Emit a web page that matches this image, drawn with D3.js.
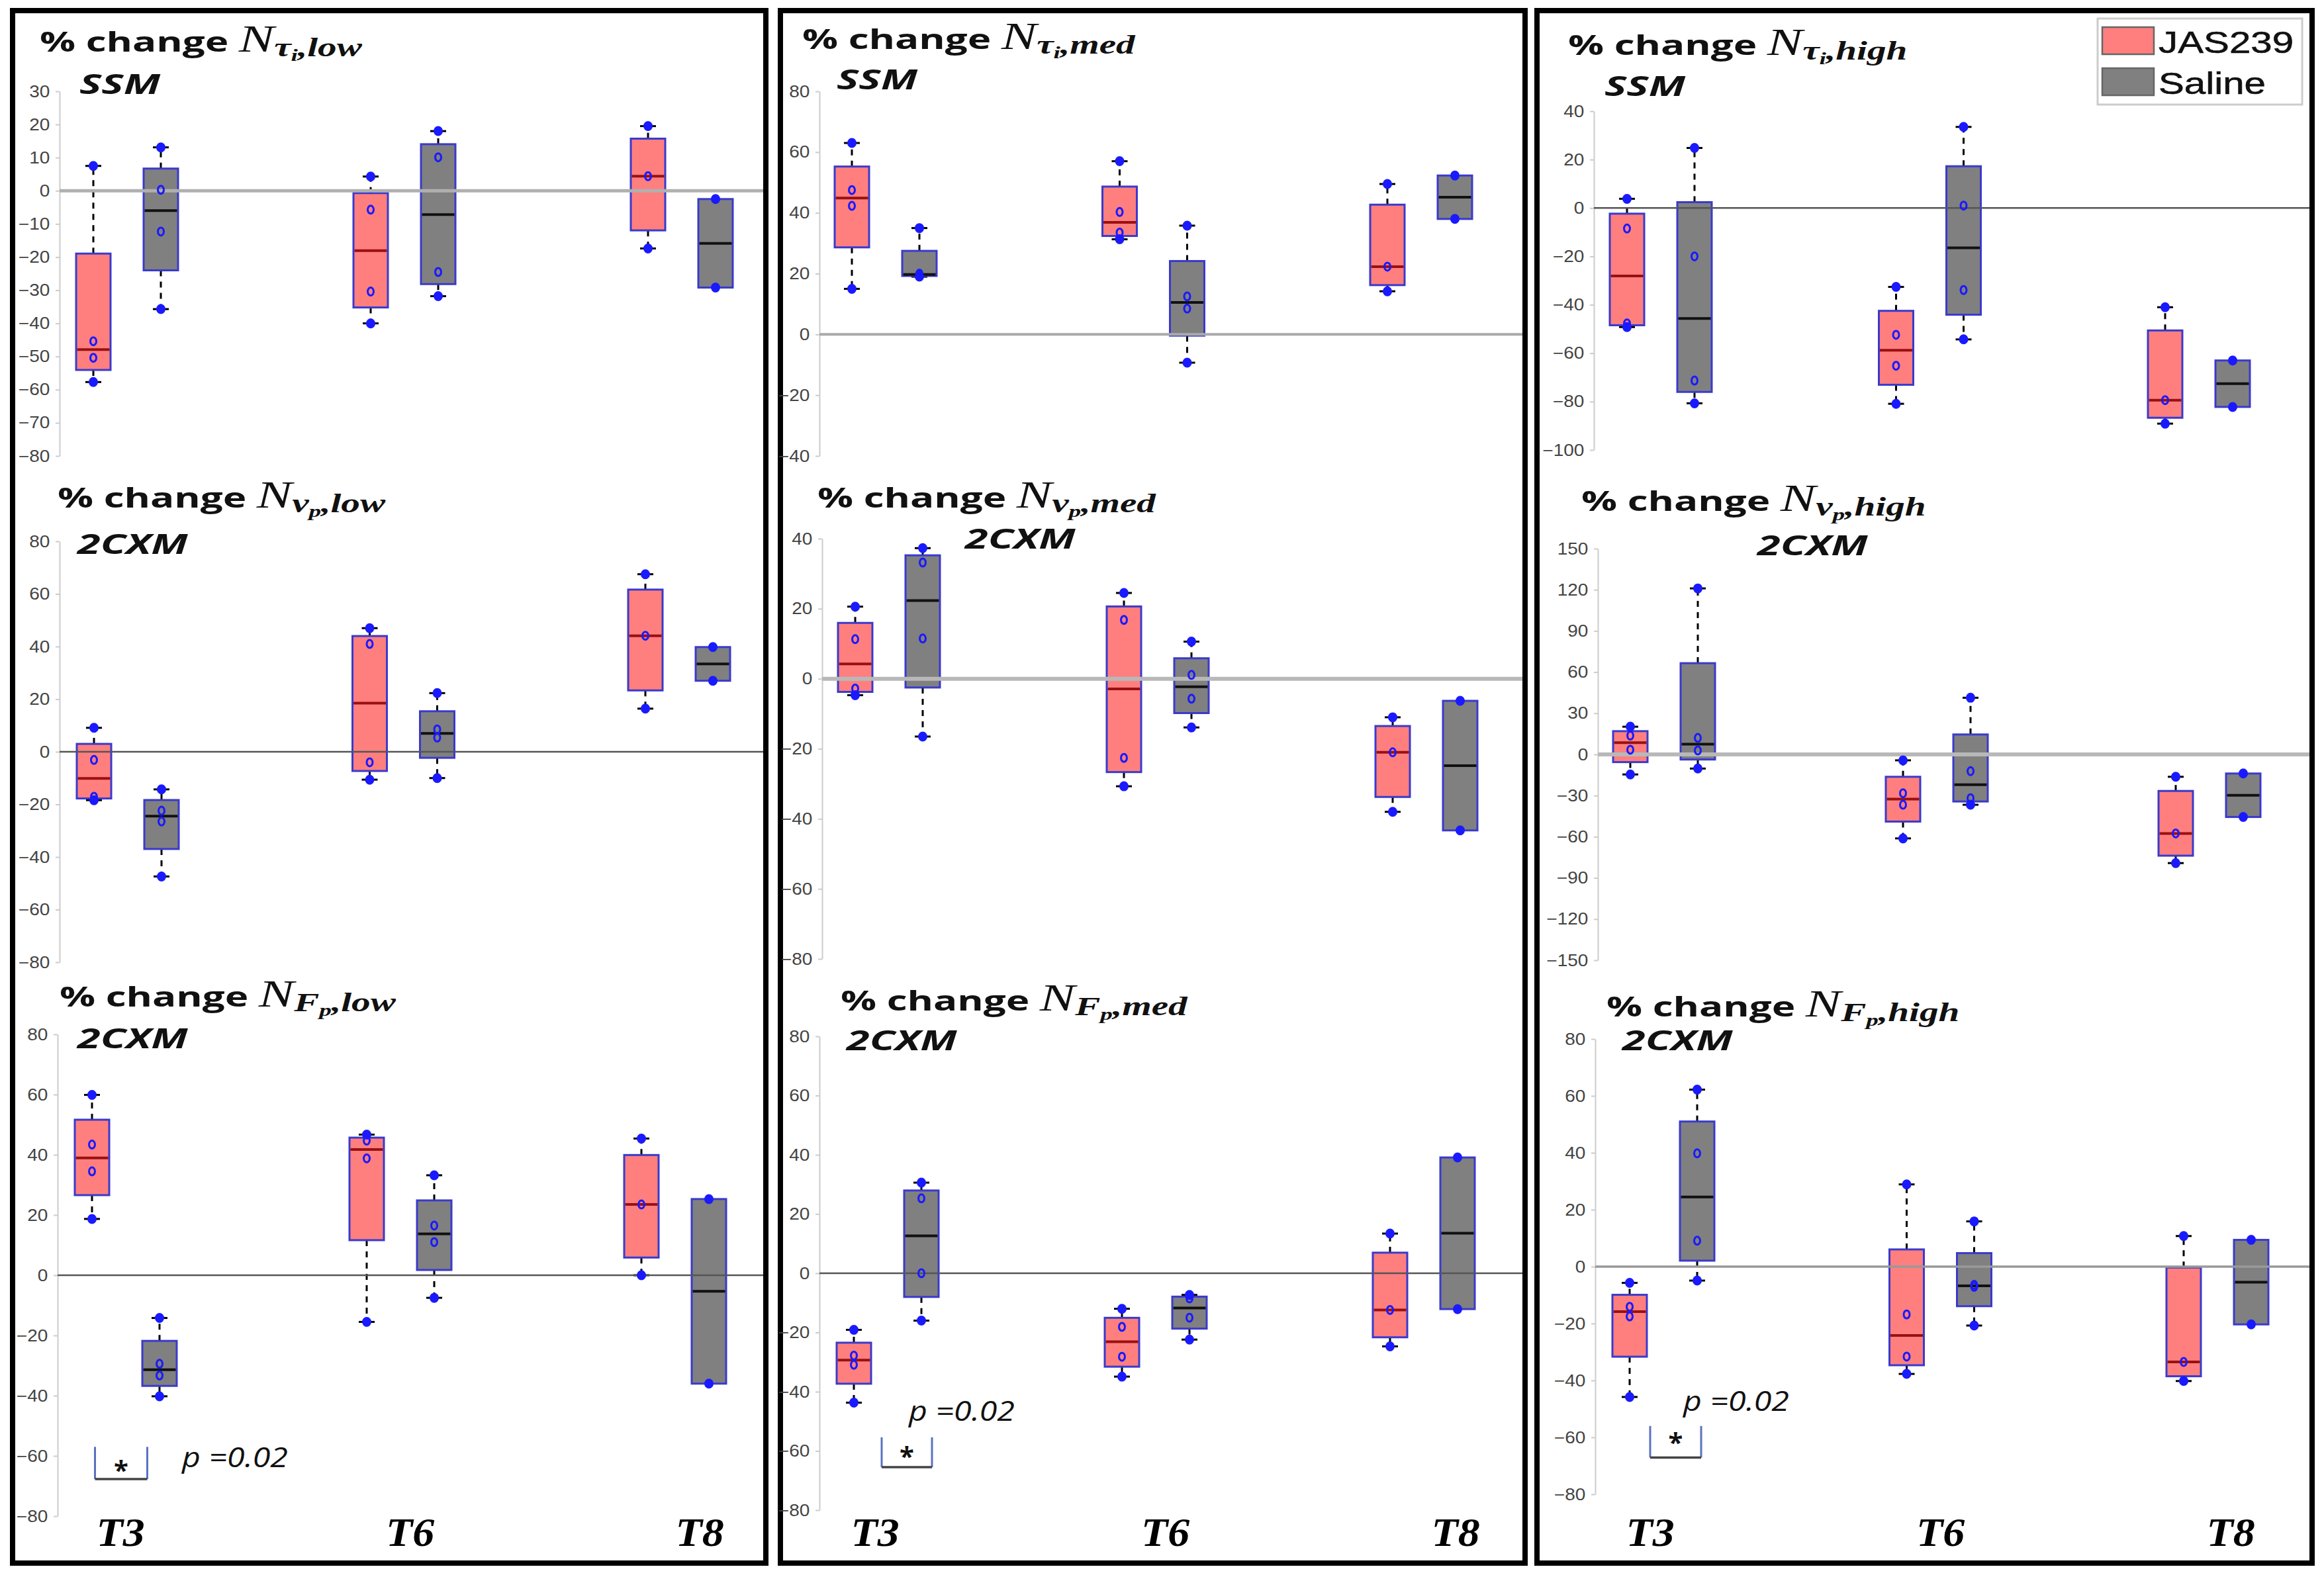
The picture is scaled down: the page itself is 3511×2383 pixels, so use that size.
<!DOCTYPE html>
<html>
<head>
<meta charset="utf-8">
<script src="https://cdn.jsdelivr.net/npm/d3@7"></script>
<style>
  body { margin: 0; background: #fff; }
</style>
</head>
<body>
<div class="chart"></div>
<script>
var svgWidth = 3511;
var svgHeight = 2383;

var times = ["T3", "T6", "T8"];
var groups = ["JAS239", "Saline"];

// raw % change values per animal, [T3, T6, T8]
var tauLowJAS = [[7.5, -45.4, -50.4, -57.7], [4.3, -5.7, -30.4, -40], [19.5, 4.4, -17.4]];
var tauLowSal = [[13.1, 0.3, -12.3, -35.7], [18, 10.1, -24.5, -31.8], [-2.5, -29.2]];
var tauMedJAS = [[63, 47.5, 42.3, 15], [57, 40.3, 33.5, 31.3], [49.5, 22.3, 14.2]];
var tauMedSal = [[35, 20, 19.5, 19], [35.8, 12.5, 8.5, -9.3], [52.3, 38]];
var tauHighJAS = [[3.8, -8.5, -47.7, -49.2], [-32.6, -52.4, -65.2, -80.9], [-41, -79.4, -89.1]];
var tauHighSal = [[24.8, -20, -71.3, -80.7], [33.5, 1, -33.9, -54.3], [-63, -82.2]];
var vpLowJAS = [[9.1, -3.1, -17.1, -18.4], [47, 41, -4, -10.6], [67.5, 44.1, 16.4]];
var vpLowSal = [[-14.3, -22.4, -26.5, -47.4], [22.3, 8.5, 5.4, -10], [39.8, 27]];
var vpMedJAS = [[20.6, 11.3, -2.8, -4.7], [24.5, 16.8, -22.6, -30.7], [-11, -21, -38]];
var vpMedSal = [[37.3, 33.2, 11.5, -16.5], [10.6, 1.1, -5.7, -13.9], [-6.3, -43.3]];
var vpHighJAS = [[20.2, 13.7, 3.4, -14.6], [-4.3, -28.3, -36.7, -61.2], [-16.3, -57.6, -79.2]];
var vpHighSal = [[121, 12, 2.9, -10.3], [41.3, -12.2, -31.9, -36.7], [-13.9, -45.6]];
var fpLowJAS = [[59.9, 43.4, 34.5, 18.7], [46.7, 44.7, 38.8, -15.5], [45.4, 23.5, 0]];
var fpLowSal = [[-14.2, -29.4, -33.3, -40.2], [33.2, 16.5, 11, -7.5], [25.3, -36]];
var fpMedJAS = [[-19.1, -27.8, -30.9, -43.7], [-12, -18.1, -28.2, -34.9], [13.4, -12.4, -24.7]];
var fpMedSal = [[30.6, 25.3, 0, -16], [-7.3, -8.5, -15, -22.4], [39.1, -12.1]];
var fpHighJAS = [[-5.7, -14.1, -17.5, -45.8], [28.9, -16.8, -31.6, -37.7], [10.75, -33.5, -40.2]];
var fpHighSal = [[62.2, 39.8, 9.1, -4.9], [15.9, -6.4, -7.1, -20.7], [9.4, -20.3]];

// y tick labels
var ticksTauLow = [30, 20, 10, 0, -10, -20, -30, -40, -50, -60, -70, -80];
var ticksTauMed = [80, 60, 40, 20, 0, -20, -40];
var ticksTauHigh = [40, 20, 0, -20, -40, -60, -80, -100];
var ticksVpLow = [80, 60, 40, 20, 0, -20, -40, -60, -80];
var ticksVpMed = [40, 20, 0, -20, -40, -60, -80];
var ticksVpHigh = [150, 120, 90, 60, 30, 0, -30, -60, -90, -120, -150];
var ticksFp = [80, 60, 40, 20, 0, -20, -40, -60, -80];

var panels = [
  {sym: "\u03C4", sub: "i", level: "low", model: "SSM", jas: tauLowJAS, sal: tauLowSal, ticks: ticksTauLow},
  {sym: "\u03C4", sub: "i", level: "med", model: "SSM", jas: tauMedJAS, sal: tauMedSal, ticks: ticksTauMed},
  {sym: "\u03C4", sub: "i", level: "high", model: "SSM", jas: tauHighJAS, sal: tauHighSal, ticks: ticksTauHigh},
  {sym: "v", sub: "p", level: "low", model: "2CXM", jas: vpLowJAS, sal: vpLowSal, ticks: ticksVpLow},
  {sym: "v", sub: "p", level: "med", model: "2CXM", jas: vpMedJAS, sal: vpMedSal, ticks: ticksVpMed},
  {sym: "v", sub: "p", level: "high", model: "2CXM", jas: vpHighJAS, sal: vpHighSal, ticks: ticksVpHigh},
  {sym: "F", sub: "p", level: "low", model: "2CXM", jas: fpLowJAS, sal: fpLowSal, ticks: ticksFp},
  {sym: "F", sub: "p", level: "med", model: "2CXM", jas: fpMedJAS, sal: fpMedSal, ticks: ticksFp},
  {sym: "F", sub: "p", level: "high", model: "2CXM", jas: fpHighJAS, sal: fpHighSal, ticks: ticksFp}
];

// significance marks at T3 (bottom row)
var sigPanels = [6, 7, 8];
var sigTop = [-57, -55.4, -56];
var sigBottom = [-67.7, -65.5, -67.1];
var sigStar = [-63, -60, -60];
var sigLabelY = [-63.7, -49.8, -50.6];
var sigText = "p =0.02";

// ---- layout (pixels) ----
var layout = [
  {axisX: 90,   yTop: 138,  yBot: 689,  x3: 192,  x8: 1030, tX: 60,   tY: 78,   mX: 120,  mY: 142,  right: 1153, zc: "#b0b0b0", zw: 5},
  {axisX: 1238, yTop: 138,  yBot: 689,  x3: 1338, x8: 2147, tX: 1212, tY: 74,   mX: 1264, mY: 135,  right: 2300, zc: "#aaaaaa", zw: 4},
  {axisX: 2408, yTop: 168,  yBot: 680,  x3: 2509, x8: 3322, tX: 2369, tY: 83,   mX: 2424, mY: 145,  right: 3489, zc: "#555555", zw: 2.5},
  {axisX: 90,   yTop: 818,  yBot: 1454, x3: 193,  x8: 1026, tX: 87,   tY: 767,  mX: 117,  mY: 837,  right: 1153, zc: "#555555", zw: 2.5},
  {axisX: 1242, yTop: 814,  yBot: 1449, x3: 1343, x8: 2155, tX: 1235, tY: 767,  mX: 1458, mY: 829,  right: 2300, zc: "#b8b8b8", zw: 6},
  {axisX: 2414, yTop: 829,  yBot: 1451, x3: 2514, x8: 3338, tX: 2389, tY: 772,  mX: 2655, mY: 839,  right: 3489, zc: "#b8b8b8", zw: 6},
  {axisX: 87,   yTop: 1563, yBot: 2291, x3: 190,  x8: 1020, tX: 90,   tY: 1521, mX: 117,  mY: 1584, right: 1153, zc: "#555555", zw: 2.5},
  {axisX: 1238, yTop: 1566, yBot: 2282, x3: 1341, x8: 2151, tX: 1270, tY: 1527, mX: 1279, mY: 1587, right: 2300, zc: "#555555", zw: 2.5},
  {axisX: 2410, yTop: 1570, yBot: 2258, x3: 2513, x8: 3350, tX: 2427, tY: 1536, mX: 2451, mY: 1587, right: 3489, zc: "#999999", zw: 3.5}
];
var labelRange = {6: [182, 1057], 7: [1322, 2199], 8: [2493, 3370]};
var sigLayout = {6: {l: -46.5, r: 32.5, px: 85}, 7: {l: -9, r: 67, px: 32}, 8: {l: -20, r: 57, px: 30}};
var columns = [{x: 19, w: 1138}, {x: 1179, w: 1125}, {x: 2322, w: 1171}];

var sansFont = "'Open Sans', 'Liberation Sans', sans-serif";
var serifFont = "'Liberation Serif', 'DejaVu Serif', serif";
var boxFill = ["#ff7f7f", "#808080"];
var medColor = ["#9a1010", "#111111"];
var boxW = 52;

var svg = d3.select(".chart")
  .append("svg")
  .attr("width", svgWidth)
  .attr("height", svgHeight)
  .style("background", "#fff");

// MATLAB style percentile (boxplot quartiles)
function prctile(s, p) {
  var n = s.length;
  var pos = n * p + 0.5;
  if (pos <= 1) return s[0];
  if (pos >= n) return s[n - 1];
  var i = Math.floor(pos);
  return s[i - 1] + (pos - i) * (s[i] - s[i - 1]);
}

function boxStats(values) {
  var s = values.slice().sort(d3.ascending);
  var q1 = prctile(s, 0.25), med = prctile(s, 0.5), q3 = prctile(s, 0.75);
  var iqr = q3 - q1;
  var inside = s.filter(v => v >= q1 - 1.5 * iqr && v <= q3 + 1.5 * iqr);
  return {q1: q1, med: med, q3: q3, lo: d3.min(inside), hi: d3.max(inside), pts: s};
}

// column frames
svg.selectAll("rect.frame")
  .data(columns)
  .enter()
  .append("rect")
  .attr("class", "frame")
  .attr("x", d => d.x)
  .attr("y", 16)
  .attr("width", d => d.w)
  .attr("height", 2346)
  .attr("fill", "none")
  .attr("stroke", "#000")
  .attr("stroke-width", 8);

panels.forEach(function(p, i) {
  var L = layout[i];
  var g = svg.append("g");

  var y = d3.scaleLinear().domain(d3.extent(p.ticks)).range([L.yBot, L.yTop]);
  var x = d3.scalePoint().domain(times).range([L.x3, L.x8]);
  var xSub = d3.scalePoint().domain(groups).range([-51, 51]);

  var ax = g.append("g")
    .attr("transform", `translate(${L.axisX},0)`)
    .call(d3.axisLeft(y).tickValues(p.ticks).tickSize(6).tickSizeOuter(0).tickPadding(7));
  ax.select(".domain").attr("stroke", "#cccccc").attr("stroke-width", 2);
  ax.selectAll(".tick line").attr("stroke", "#cccccc").attr("stroke-width", 2);
  ax.selectAll(".tick text")
    .attr("fill", "#444")
    .attr("font-family", "'Liberation Sans', Arial, sans-serif")
    .attr("font-size", 25)
    .attr("transform", "scale(1.12,1)");

  var boxes = [];
  var series = [p.jas, p.sal];
  times.forEach(function(t, ti) {
    groups.forEach(function(gr, gi) {
      var st = boxStats(series[gi][ti]);
      st.cx = x(t) + xSub(gr);
      st.gi = gi;
      boxes.push(st);
    });
  });

  // whiskers
  boxes.forEach(function(b) {
    [[b.q3, b.hi], [b.q1, b.lo]].forEach(function(w) {
      if (w[0] === w[1]) return;
      g.append("line")
        .attr("x1", b.cx).attr("x2", b.cx)
        .attr("y1", y(w[0])).attr("y2", y(w[1]))
        .attr("stroke", "#000").attr("stroke-width", 3)
        .attr("stroke-dasharray", "9,8");
      g.append("line")
        .attr("x1", b.cx - 12).attr("x2", b.cx + 12)
        .attr("y1", y(w[1])).attr("y2", y(w[1]))
        .attr("stroke", "#000").attr("stroke-width", 3);
    });
  });

  g.selectAll("rect.box")
    .data(boxes)
    .enter()
    .append("rect")
    .attr("class", "box")
    .attr("x", d => d.cx - boxW / 2)
    .attr("y", d => y(d.q3))
    .attr("width", boxW)
    .attr("height", d => y(d.q1) - y(d.q3))
    .attr("fill", d => boxFill[d.gi])
    .attr("stroke", "#3a3acc")
    .attr("stroke-width", 3);

  g.selectAll("line.med")
    .data(boxes)
    .enter()
    .append("line")
    .attr("class", "med")
    .attr("x1", d => d.cx - boxW / 2 + 1.5)
    .attr("x2", d => d.cx + boxW / 2 - 1.5)
    .attr("y1", d => y(d.med))
    .attr("y2", d => y(d.med))
    .attr("stroke", d => medColor[d.gi])
    .attr("stroke-width", 4);

  // zero reference line
  g.append("line")
    .attr("x1", L.axisX).attr("x2", L.right)
    .attr("y1", y(0)).attr("y2", y(0))
    .attr("stroke", L.zc).attr("stroke-width", L.zw);

  // data points (the extremes sit on the whisker caps and read as solid marks)
  var pts = [];
  boxes.forEach(b => b.pts.forEach(v => pts.push({cx: b.cx, v: v, end: v === b.lo || v === b.hi})));
  g.selectAll("ellipse")
    .data(pts)
    .enter()
    .append("ellipse")
    .attr("cx", d => d.cx)
    .attr("cy", d => y(d.v))
    .attr("rx", d => d.end ? 5.5 : 4.5)
    .attr("ry", 6)
    .attr("fill", d => d.end ? "#1a1aff" : "none")
    .attr("stroke", "#1a1aff")
    .attr("stroke-width", 3);

  // title
  var title = g.append("text")
    .attr("transform", `translate(${L.tX},${L.tY}) scale(1.43,1)`)
    .attr("fill", "#111");
  title.append("tspan").text("% change ")
    .attr("font-family", sansFont).attr("font-weight", 700).attr("font-size", 42);
  title.append("tspan").text("N")
    .attr("font-family", serifFont).attr("font-style", "italic").attr("font-size", 56);
  title.append("tspan").text(p.sym).attr("dy", 7)
    .attr("font-family", serifFont).attr("font-style", "italic").attr("font-weight", 700).attr("font-size", 40);
  title.append("tspan").text(p.sub).attr("dy", 7)
    .attr("font-family", serifFont).attr("font-style", "italic").attr("font-weight", 700).attr("font-size", 26);
  title.append("tspan").text("," + p.level).attr("dy", -7)
    .attr("font-family", serifFont).attr("font-style", "italic").attr("font-weight", 700).attr("font-size", 40);

  g.append("text")
    .attr("transform", `translate(${L.mX},${L.mY}) scale(1.5,1)`)
    .attr("font-family", sansFont).attr("font-weight", 700).attr("font-style", "italic")
    .attr("font-size", 42).attr("fill", "#111")
    .text(p.model);

  // time labels on the bottom row
  if (labelRange[i]) {
    var xl = d3.scalePoint().domain(times).range(labelRange[i]);
    g.selectAll("text.tlab")
      .data(times)
      .enter()
      .append("text")
      .attr("class", "tlab")
      .attr("transform", d => `translate(${xl(d)},2336) scale(1.08,1)`)
      .attr("text-anchor", "middle")
      .attr("font-family", serifFont).attr("font-weight", 700).attr("font-style", "italic")
      .attr("font-size", 61).attr("fill", "#000")
      .text(d => d);
  }

  // significance bracket
  var si = sigPanels.indexOf(i);
  if (si >= 0) {
    var S = sigLayout[i];
    var xc = x("T3");
    var yb = y(sigBottom[si]), yt = y(sigTop[si]);
    g.append("line").attr("x1", xc + S.l).attr("x2", xc + S.l).attr("y1", yt).attr("y2", yb)
      .attr("stroke", "#5a72c0").attr("stroke-width", 3);
    g.append("line").attr("x1", xc + S.r).attr("x2", xc + S.r).attr("y1", yt).attr("y2", yb)
      .attr("stroke", "#5a72c0").attr("stroke-width", 3);
    g.append("line").attr("x1", xc + S.l).attr("x2", xc + S.r).attr("y1", yb).attr("y2", yb)
      .attr("stroke", "#444").attr("stroke-width", 3.5);
    g.append("text")
      .attr("x", xc + (S.l + S.r) / 2).attr("y", y(sigStar[si]) + 22)
      .attr("text-anchor", "middle")
      .attr("font-family", sansFont).attr("font-weight", 700).attr("font-size", 40).attr("fill", "#111")
      .text("*");
    g.append("text")
      .attr("transform", `translate(${xc + S.px},${y(sigLabelY[si])}) scale(1.15,1)`)
      .attr("font-family", sansFont).attr("font-style", "italic")
      .attr("font-size", 42).attr("fill", "#111")
      .text(sigText);
  }
});

// legend
var leg = svg.append("g");
leg.append("rect")
  .attr("x", 3169).attr("y", 28).attr("width", 309).attr("height", 130)
  .attr("fill", "#fff").attr("stroke", "#cccccc").attr("stroke-width", 3);
leg.selectAll("rect.sw")
  .data(groups)
  .enter()
  .append("rect")
  .attr("class", "sw")
  .attr("x", 3176)
  .attr("y", (d, k) => 41 + k * 62)
  .attr("width", 78)
  .attr("height", 41)
  .attr("fill", (d, k) => boxFill[k])
  .attr("stroke", "#666")
  .attr("stroke-width", 2.5);
leg.selectAll("text")
  .data(groups)
  .enter()
  .append("text")
  .attr("transform", (d, k) => `translate(3261,${80 + k * 62}) scale(1.24,1)`)
  .attr("font-family", "'Liberation Sans', Arial, sans-serif")
  .attr("font-size", 47)
  .attr("fill", "#111")
  .attr("stroke", "#111")
  .attr("stroke-width", 0.6)
  .text(d => d);
</script>
</body>
</html>
